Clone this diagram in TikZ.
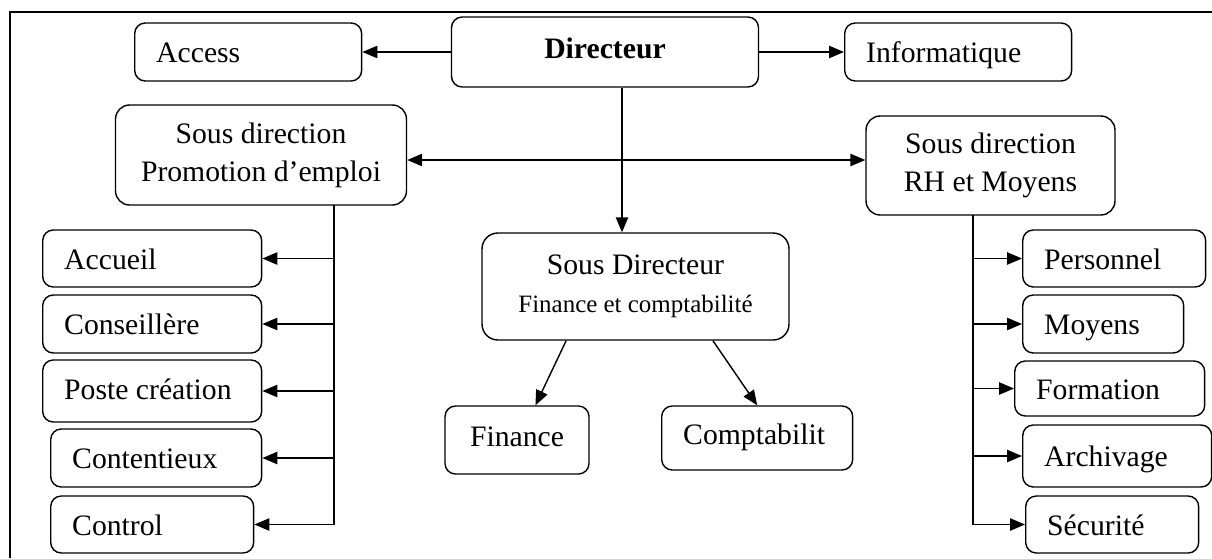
\documentclass[tikz,border=0pt]{standalone}
\usepackage{fontspec}
\setmainfont{Liberation Serif}
\usepackage{tikz}
\usetikzlibrary{shapes, arrows.meta, positioning}

\begin{document}
\begin{tikzpicture}[x=0.02cm, y=-0.02cm,
    font=\fontsize{16.9}{21.5}\selectfont,
    box/.style={draw, rounded corners=6pt, line width=0.8pt, inner ysep=0pt},
    cbox/.style 2 args={box, align=center, minimum width=#1, minimum height=#2, inner xsep=0pt},
    lbox/.style 2 args={box, anchor=west, minimum height=#2, inner xsep=0.43cm,
      text height=13pt, text depth=0.6pt,
      execute at begin node={\hbox to #1\bgroup}, execute at end node={\hfil\egroup}},
    mid/.style={text height=11.6pt, text depth=3.7pt},
    link/.style={line width=0.8pt},
    arr/.style={link, -{Triangle[length=8.5pt, width=7pt]}},
    arrtwo/.style={link, {Triangle[length=8.5pt, width=7pt]}-{Triangle[length=8.5pt, width=7pt]}},
    frame/.style={line width=1.7pt}]
  \useasboundingbox (0,0) rectangle (1212,558);
  \draw[frame] (10,558) |- (1212,12);

  \node[cbox={6.14cm}{1.4cm}, mid] (dir) at (605,52) {\textbf{Directeur}};
  \node[lbox={3.68cm}{1.16cm}] (access) at (134,52) {Access};
  \node[lbox={3.68cm}{1.16cm}] (info) at (844,52) {Informatique};

  \node[cbox={5.82cm}{2.0cm}, rounded corners=8pt] (promo) at (261,155) {Sous direction\\Promotion d’emploi};
  \node[cbox={4.98cm}{1.98cm}, rounded corners=8pt] (rh) at (990.5,165.5) {Sous direction\\RH et Moyens};
  \node[cbox={6.14cm}{2.14cm}, rounded corners=9pt] (sousdir) at (635.5,286.5)
    {Sous Directeur\\{\fontsize{14.2}{18}\selectfont Finance et comptabilité}};

  \node[cbox={2.88cm}{1.36cm}, mid] (fin) at (517,440) {Finance};
  \node[lbox={2.96cm}{1.28cm}, mid] (compta) at (661,438) {Comptabilit};

  \node[lbox={3.52cm}{1.14cm}] (accueil) at (42,258.5) {Accueil};
  \node[lbox={3.52cm}{1.16cm}] (conseil) at (42,324) {Conseillère};
  \node[lbox={3.52cm}{1.24cm}, text height=12.3pt, text depth=2.2pt] (poste) at (42,391) {Poste création};
  \node[lbox={3.36cm}{1.16cm}] (conten) at (50,458) {Contentieux};
  \node[lbox={3.20cm}{1.14cm}] (control) at (50,524.5) {Control};

  \node[lbox={2.80cm}{1.14cm}] (perso) at (1022,258.5) {Personnel};
  \node[lbox={2.36cm}{1.16cm}] (moyens) at (1022,324) {Moyens};
  \node[lbox={2.94cm}{1.10cm}] (formation) at (1014,388.5) {Formation};
  \node[lbox={2.92cm}{1.24cm}] (archiv) at (1022,456) {Archivage};
  \node[lbox={2.60cm}{1.14cm}] (secu) at (1025,524.5) {Sécurité};

  \draw[arr] (dir.west) -- (access.east);
  \draw[arr] (dir.east) -- (info.west);
  \coordinate (hm) at (0,160);
  \draw[arrtwo] (promo.east |- hm) -- (rh.west |- hm);
  \coordinate (dv) at (622,0);
  \draw[arr] (dir.south -| dv) -- (sousdir.north -| dv);
  \draw[arr] (sousdir.218) -- (fin.62);
  \draw[arr] (sousdir.325) -- (compta.north);

  \coordinate (ltop) at (334,205);
  \draw[arr] (ltop) |- (control.east);
  \foreach \n in {accueil, conseil, poste, conten}
    \draw[arr] (ltop |- \n.east) -- (\n.east);

  \coordinate (rtop) at (973,215);
  \draw[arr] (rtop) |- (secu.west);
  \foreach \n in {perso, moyens, formation, archiv}
    \draw[arr] (rtop |- \n.west) -- (\n.west);
\end{tikzpicture}
\end{document}
